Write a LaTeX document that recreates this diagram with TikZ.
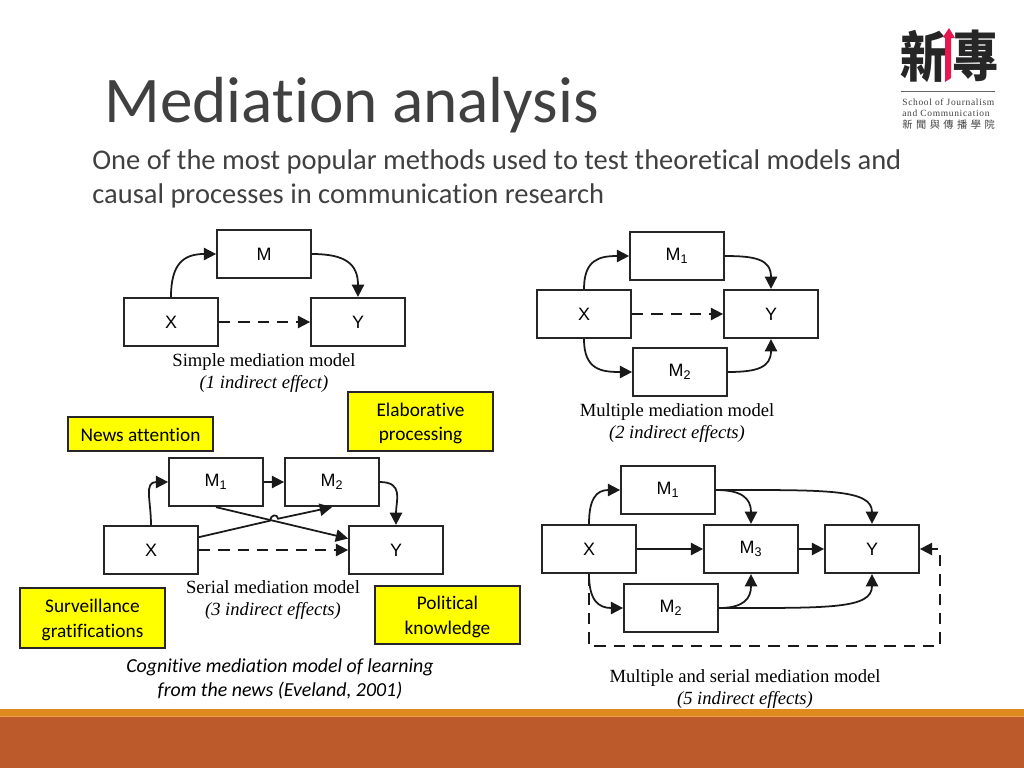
\documentclass[tikz,border=0pt]{standalone}
\usepackage{fontspec}
\usepackage{graphicx}
\usepackage{xcolor}
\usetikzlibrary{arrows.meta}
\setmainfont[Ligatures=NoCommon]{Carlito}
\newfontfamily\boxfont{Liberation Sans}
\newfontfamily\capfont{Liberation Serif}
\newfontfamily\cjkfont{Noto Sans CJK TC}
\newfontfamily\logofont[LetterSpace=7]{Liberation Serif}
\newcommand{\nudge}[2][1.1pt]{\raisebox{-#1}[\height][\depth]{#2}}
\definecolor{bandorange}{HTML}{DF8A1E}
\definecolor{bandlight}{HTML}{EBA04A}
\definecolor{bandrust}{HTML}{BC5A2B}
\definecolor{titlegray}{HTML}{404040}
\definecolor{logored}{HTML}{E8174F}
\definecolor{noteyellow}{HTML}{FFFF00}
\tikzset{
    box/.style={draw=black!85, line width=1pt, fill=white, minimum width=1.88cm, minimum height=0.97cm,
        inner sep=0pt, font=\boxfont\fontsize{10.2}{12}\selectfont},
    note/.style={draw=black!85, line width=1pt, fill=noteyellow, minimum width=2.9cm, align=center,
        inner sep=0pt, font=\fontsize{11}{13.8}\selectfont},
    flow/.style={line width=1pt, black!90, looseness=1.35, -{Triangle[length=7pt,width=7pt]}},
    dashflow/.style={flow, dash pattern=on 6.5pt off 4.5pt},
    caption/.style={align=center, font=\capfont\fontsize{10.6}{12.3}\selectfont},
    lead/.style={anchor=base west, text=titlegray, inner sep=0pt},
    logochar/.style={font=\cjkfont\bfseries\fontsize{31}{31}\selectfont, text=black!85, inner sep=0pt},
    logoline/.style={anchor=base west, inner sep=0pt, text=black!75}
}
\begin{document}
\begin{tikzpicture}[x=0.02cm, y=-0.02cm]
    \useasboundingbox (0,0) rectangle (1024,768);
    % footer band
    \fill[bandorange] (0,709) rectangle (1024,717);
    \fill[bandlight] (0,716) rectangle (1024,717);
    \fill[bandrust] (0,717) rectangle (1024,768);

    % heading
    \node[lead, font=\fontsize{37.1}{40}\selectfont] (title) at (104,122) {Mediation analysis};
    \node[lead, font=\fontsize{16.22}{19}\selectfont] (line1) at (92,169) {One of the most popular methods used to test theoretical models and};
    \node[lead, font=\fontsize{16.22}{19}\selectfont] (line2) at (92,203) {causal processes in communication research};

    % logo
    \node[logochar] (logoa) at (923.5,56) {\scalebox{0.85}[1]{新}};
    \node[logochar] (logob) at (976,56) {\scalebox{0.85}[1]{專}};
    \fill[logored] (943,37) -- (949,28) -- (955,38) -- (951,38) -- (951,78) -- (945,82) -- (945,38) -- cycle;
    \draw[black!60, line width=0.5pt] (901,91) -- (995,91);
    \node[logoline, font=\logofont\fontsize{5.4}{6}\selectfont] (logoc) at (902,105) {School of Journalism};
    \node[logoline, font=\logofont\fontsize{5.4}{6}\selectfont] (logod) at (902,116) {and Communication};
    \node[logoline, font=\cjkfont\fontsize{5.8}{6}\selectfont] (logoe) at (902,128) {新\kern2pt 聞\kern2pt 與\kern2pt 傳\kern2pt 播\kern2pt 學\kern2pt 院};

    % simple mediation
    \node[box] (m) at (264,254) {M};
    \node[box] (x) at (171,322) {X};
    \node[box] (y) at (358,322) {Y};
    \draw[flow] (x.north) to[out=90, in=180] (m.west);
    \draw[flow] (m.east) to[out=0, in=90] (y.north);
    \draw[dashflow] (x) -- (y);
    \node[caption] (capa) at (264,373) {Simple mediation model\\ \itshape (1 indirect effect)};

    % multiple mediation
    \node[box] (pm1) at (677,256) {M\textsubscript{1}};
    \node[box] (pm2) at (680,372) {M\textsubscript{2}};
    \node[box] (px) at (584,314) {X};
    \node[box] (py) at (771,314) {Y};
    \draw[flow] (px.north) to[out=90, in=180] (pm1.west);
    \draw[flow] (pm1.east) to[out=0, in=90] (py.north);
    \draw[flow] (px.south) to[out=-90, in=180] (pm2.west);
    \draw[flow] (pm2.east) to[out=0, in=-90] (py.south);
    \draw[dashflow] (px) -- (py);
    \node[caption] (capb) at (677,423) {Multiple mediation model\\ \itshape (2 indirect effects)};

    % serial mediation
    \node[box] (sm1) at (216,482) {M\textsubscript{1}};
    \node[box] (sm2) at (332,482) {M\textsubscript{2}};
    \node[box] (sx) at (151,550) {X};
    \node[box] (sy) at (396,550) {Y};
    \coordinate (hopa) at (270,520.7);
    \coordinate (hopb) at (278,518.7);
    \draw[flow] (sx.north) to[out=90, in=180] (sm1.west);
    \draw[flow] (sm1) -- (sm2);
    \draw[flow] (sm2.east) to[out=0, in=90] (sy.north);
    \draw[flow] (sm1.south) -- ([yshift=0.23cm]sy.west);
    \draw[flow] (sx.15) -- (hopa) .. controls (270.5,514.5) and (277.5,513.5) .. (hopb) -- (sm2.south);
    \draw[dashflow] (sx) -- (sy);
    \node[caption] (capc) at (273,600) {Serial mediation model\\ \itshape (3 indirect effects)};

    % multiple and serial
    \node[box] (tm1) at (668,490) {M\textsubscript{1}};
    \node[box] (tm2) at (671,608) {M\textsubscript{2}};
    \node[box] (tm3) at (751,549) {M\textsubscript{3}};
    \node[box] (tx) at (589,549) {X};
    \node[box] (ty) at (872,549) {Y};
    \coordinate (loopa) at (589,646);
    \coordinate (loopb) at (940,646);
    \coordinate (loopc) at (940,549);
    \draw[flow] (tx.north) to[out=90, in=180] (tm1.west);
    \draw[flow] (tx.south) to[out=-90, in=180] (tm2.west);
    \draw[flow] (tx) -- (tm3);
    \draw[flow] (tm3) -- (ty);
    \draw[flow] (tm1.east) to[out=0, in=90] (tm3.north);
    \draw[flow] (tm2.east) to[out=0, in=-90] (tm3.south);
    \draw[flow] (tm1.east) .. controls +(110,0) and +(0,-35) .. (ty.north);
    \draw[flow] (tm2.east) .. controls +(110,0) and +(0,35) .. (ty.south);
    \draw[dashflow] (tx.south) -- (loopa) -- (loopb) -- (loopc) -- (ty.east);
    \node[caption] (capd) at (745,689) {Multiple and serial mediation model\\ \itshape (5 indirect effects)};

    % yellow labels
    \node[note, minimum height=0.68cm] (news) at (140.5,434) {\nudge[0.5pt]{News attention}};
    \node[note, minimum height=1.18cm] (elab) at (420.5,421.5) {\nudge{Elaborative}\\ \nudge{processing}};
    \node[note, minimum height=1.2cm] (surv) at (92.5,618) {\nudge{Surveillance}\\ \nudge{gratifications}};
    \node[note, minimum height=1.16cm] (poli) at (447.5,615) {\nudge{Political}\\ \nudge{knowledge}};
    \node[align=center, font=\itshape\fontsize{11.3}{13.8}\selectfont] (capl) at (280,679) {Cognitive mediation model of learning\\ from the news (Eveland, 2001)};
\end{tikzpicture}
\end{document}
